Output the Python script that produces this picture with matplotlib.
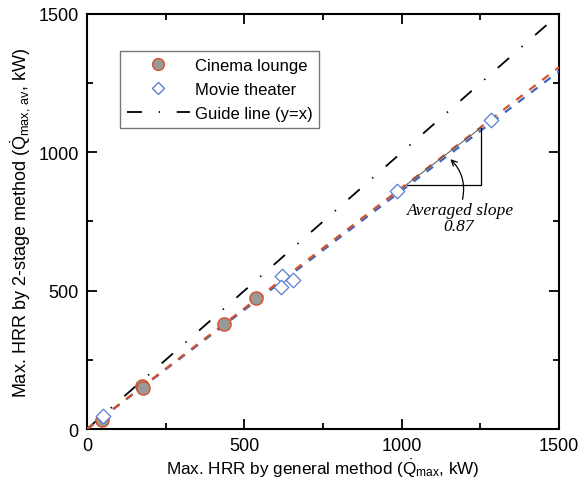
import matplotlib
matplotlib.use("Agg")
import matplotlib.pyplot as plt
from matplotlib.lines import Line2D

plt.rcParams['font.family'] = ['Liberation Sans', 'DejaVu Sans']
plt.rcParams['mathtext.fontset'] = 'custom'
plt.rcParams['mathtext.rm'] = 'Liberation Sans'
plt.rcParams['mathtext.it'] = 'Liberation Sans:italic'
plt.rcParams['lines.scale_dashes'] = False

# Data
cinema_x = [47, 174, 177, 436, 537]
cinema_y = [34, 156, 147, 379, 472]
movie_x = [52, 619, 615, 653, 984, 1282]
movie_y = [48, 554, 512, 540, 861, 1118]
cinema_slope = 0.872
movie_slope = 0.862
avg_slope = 0.87
axis_range = [0, 1500]
ticks = [0, 500, 1000, 1500]
minor_ticks = [250, 750, 1250]
tri_x = [1015, 1252]

fig = plt.figure(figsize=(5.88, 4.81), dpi=100)
ax = fig.add_axes([0.148, 0.106, 0.803, 0.863])

red = '#d4512a'
blue = '#3a66c4'

# guide line y = x
ax.plot(axis_range, axis_range, color='black', lw=1.3,
        dashes=(10.8, 12, 1, 12), zorder=2)
# fit lines
ax.plot(axis_range, [v * movie_slope for v in axis_range], color=blue, lw=1.6,
        dashes=(5.8, 6), zorder=3)
ax.plot(axis_range, [v * cinema_slope for v in axis_range], color=red, lw=1.6,
        dashes=(5.8, 6), zorder=3)

# slope triangle
y0 = tri_x[0] * avg_slope
y1 = y0 + (tri_x[1] - tri_x[0]) * avg_slope
ax.plot([tri_x[0], tri_x[1], tri_x[1]], [y0, y0, y1], color='black', lw=0.9, zorder=4)
ax.plot([tri_x[0], tri_x[1]], [y0, y1], color='#555555', lw=0.7, zorder=4)

# markers
ax.scatter(cinema_x, cinema_y, s=90, marker='o', facecolor='#999999',
           edgecolor=red, linewidth=1.0, zorder=5)
ax.scatter(movie_x, movie_y, s=55, marker='D', facecolor='white',
           edgecolor='#5a7fd0', linewidth=0.9, zorder=5)

# annotation
ax.annotate('', xy=(1148, 982), xytext=(1191, 820),
            arrowprops=dict(arrowstyle='->', color='black', lw=0.9,
                            connectionstyle='arc3,rad=0.3'), zorder=6)
ax.text(1186, 793, 'Averaged slope', family='Liberation Serif', style='italic',
        fontsize=12.5, ha='center', va='center')
ax.text(1180, 735, '%.2f' % avg_slope, family='Liberation Serif', style='italic',
        fontsize=12.5, ha='center', va='center')

ax.set_xlim(axis_range)
ax.set_ylim(axis_range)
ax.set_xticks(ticks)
ax.set_yticks(ticks)
ax.set_xticks(minor_ticks, minor=True)
ax.set_yticks(minor_ticks, minor=True)
ax.tick_params(which='both', direction='in', top=True, right=True, width=1.3)
ax.tick_params(which='major', length=7, labelsize=13, pad=6)
ax.tick_params(which='minor', length=4)
for s in ax.spines.values():
    s.set_linewidth(1.5)

ax.set_xlabel(r'Max. HRR by general method ($\dot{\mathrm{Q}}_{\mathrm{max}}$, kW)',
              fontsize=12.3, labelpad=2)
ax.set_ylabel(r'Max. HRR by 2-stage method ($\dot{\mathrm{Q}}_{\mathrm{max,\,av}}$, kW)',
              fontsize=13, labelpad=4)

h_c = Line2D([], [], marker='o', ls='none', markersize=8.5, markerfacecolor='#999999',
             markeredgecolor=red)
h_m = Line2D([], [], marker='D', ls='none', markersize=6.5, markerfacecolor='white',
             markeredgecolor='#5a7fd0')
h_g = Line2D([], [], color='black', lw=1.3, dashes=(10.8, 12, 1, 12))
leg = ax.legend([h_c, h_m, h_g], ['Cinema lounge', 'Movie theater', 'Guide line (y=x)'],
                loc='upper left', bbox_to_anchor=(0.07, 0.911), borderaxespad=0,
                fontsize=12, handlelength=3.8, handletextpad=0.3, borderpad=0.4,
                labelspacing=0.55, fancybox=False, edgecolor='#777777', framealpha=1)
leg.get_frame().set_linewidth(1.0)

fig.savefig('out.png', dpi=100)
